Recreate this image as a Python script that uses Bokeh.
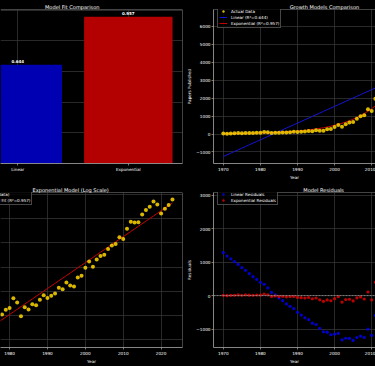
import numpy as np
from bokeh.plotting import figure
from bokeh.layouts import gridplot
from bokeh.models import (Range1d, FixedTicker, SingleIntervalTicker, Legend, LegendItem,
                          Span, GlobalInlineStyleSheet, ColumnDataSource)
from bokeh.core.properties import value
from bokeh.embed import file_html
from bokeh.resources import INLINE

# ---------------- data ----------------
years = [1970, 1971, 1972, 1973, 1974, 1975, 1976, 1977, 1978, 1979,
         1980, 1981, 1982, 1983, 1984, 1985, 1986, 1987, 1988, 1989,
         1990, 1991, 1992, 1993, 1994, 1995, 1996, 1997, 1998, 1999,
         2000, 2001, 2002, 2003, 2004, 2005, 2006, 2007, 2008, 2009,
         2010, 2011, 2012, 2013, 2014, 2015, 2016, 2017, 2018, 2019,
         2020, 2021, 2022, 2023]
papers = [28, 20, 32, 38, 50, 45, 60, 55, 57, 69,
          74, 111, 93, 53, 77, 70, 87, 83, 105, 126,
          112, 123, 135, 172, 161, 213, 189, 181, 263, 281,
          393, 506, 408, 548, 635, 669, 851, 986, 1040, 1377,
          1287, 1971, 2610, 2540, 2575, 3545, 4270, 4880, 6040, 5360,
          3690, 4500, 5220, 6550]
models = ["Linear", "Exponential"]
r2_scores = [0.644, 0.957]
bar_colors = ["#0000b3", "#b30000"]

# ---------------- fits ----------------
yrs = np.array(years, dtype=float)
vals = np.array(papers, dtype=float)
lin_coef = np.polyfit(yrs, vals, 1)
lin_fit = np.polyval(lin_coef, yrs)
exp_coef = np.polyfit(yrs, np.log(vals), 1)
log_fit = np.polyval(exp_coef, yrs)
exp_fit = np.exp(log_fit)
log_vals = np.log(vals)
lin_res = vals - lin_fit
exp_res = vals - exp_fit


def pad(lo, hi, f=0.05):
    d = (hi - lo) * f
    return lo - d, hi + d


x_full = pad(min(years), max(years))
bar_full = pad(-0.4, len(models) - 1 + 0.4)

FONT = "DejaVu Sans"
SPINE = "#a8a8a8"
GRID = "#3b3b3b"
TXT = "#ffffff"
TITLE_SIZE = "5.05px"
TICK_SIZE = "4.2px"
LEG_SIZE = "4.1px"


def make(width, height, borders, x_range, y_range, title, title_offset, y_axis=True):
    left, right, top, bottom = borders
    p = figure(width=width, height=height, x_range=x_range, y_range=y_range,
               output_backend="svg", toolbar_location=None,
               y_axis_location="left" if y_axis else None,
               background_fill_color="black", border_fill_color="black",
               min_border_left=left, min_border_right=right,
               min_border_top=top, min_border_bottom=bottom, title=title)
    p.outline_line_color = None
    p.grid.grid_line_color = GRID
    p.grid.grid_line_width = 0.7
    p.title.align = "left"
    p.title.offset = title_offset
    p.title.text_font = FONT
    p.title.text_font_size = TITLE_SIZE
    p.title.text_font_style = "normal"
    p.title.text_color = TXT
    p.title.standoff = 0
    for ax in p.axis:
        ax.axis_line_color = SPINE
        ax.axis_line_width = 0.8
        ax.major_tick_line_color = SPINE
        ax.major_tick_line_width = 0.7
        ax.major_tick_out = 2
        ax.major_tick_in = 0
        ax.minor_tick_line_color = None
        ax.major_label_text_font = FONT
        ax.major_label_text_font_size = TICK_SIZE
        ax.major_label_text_color = TXT
        ax.major_label_standoff = 1
        ax.axis_label_text_font = FONT
        ax.axis_label_text_font_size = TICK_SIZE
        ax.axis_label_text_font_style = "normal"
        ax.axis_label_text_color = TXT
        ax.axis_label_standoff = 1
    return p


def spine(p, loc, dim):
    p.add_layout(Span(location=loc, dimension=dim, line_color=SPINE, line_width=0.8))


def legend(p, items, loc):
    lg = Legend(items=items, location=loc)
    lg.label_text_font = FONT
    lg.label_text_font_size = LEG_SIZE
    lg.label_text_color = TXT
    lg.label_height = 6
    lg.glyph_height = 6
    lg.glyph_width = 8
    lg.label_standoff = 4
    lg.spacing = 0
    lg.padding = 1
    lg.margin = 0
    lg.background_fill_color = "black"
    lg.background_fill_alpha = 0.8
    lg.border_line_color = "#8c8c8c"
    lg.border_line_width = 0.7
    p.add_layout(lg)


# ---------------- top-left: bar chart ----------------
tl_y = Range1d(0, max(r2_scores) * 1.05)
tl_x = Range1d(-0.156, bar_full[1])
tl = make(184, 182, (0, 2, 9, 15), tl_x, tl_y, "Model Fit Comparison", 44.5, y_axis=False)
pos = list(range(len(models)))
bar_src = ColumnDataSource(dict(x=pos, top=r2_scores, color=bar_colors,
                                label=[f"{v:.3f}" for v in r2_scores],
                                ly=[v + 0.01 for v in r2_scores]))
tl.vbar(x="x", top="top", width=0.8, bottom=0, color="color", line_color=None, source=bar_src)
tl.text(x="x", y="ly", text="label", source=bar_src, text_align="center", text_baseline="bottom",
        text_font=value(FONT), text_font_size=value("4px"), text_font_style="bold",
        text_color=TXT)
tl.xaxis.ticker = FixedTicker(ticks=pos)
tl.xaxis.major_label_overrides = {i: m for i, m in zip(pos, models)}
tl.ygrid.ticker = SingleIntervalTicker(interval=0.2, num_minor_ticks=0)
spine(tl, tl_y.end, "width")
spine(tl, tl_x.end, "height")

# ---------------- top-right: growth models ----------------
tr_vals = np.concatenate([vals, lin_fit, exp_fit])
tr_y = Range1d(*pad(tr_vals.min(), tr_vals.max()))
tr_x = Range1d(x_full[0], 2011.03)
tr = make(191, 182, (25, 0, 9, 15), tr_x, tr_y, "Growth Models Comparison", 76.2)
r_lin = tr.line(years, lin_fit, line_color="#1414d8", line_width=1.0)
r_exp = tr.line(years, exp_fit, line_color="#c80000", line_width=1.0)
r_dat = tr.scatter(years, papers, size=4.0, fill_color="gold", fill_alpha=0.85, line_color=None)
tr.xaxis.ticker = SingleIntervalTicker(interval=10, num_minor_ticks=0)
tr.yaxis.ticker = SingleIntervalTicker(interval=1000, num_minor_ticks=0)
tr.yaxis.major_label_overrides = {-1000: "\u22121000"}
tr.xaxis.axis_label = "Year"
tr.yaxis.axis_label = "Papers Published"
spine(tr, tr_y.end, "width")
legend(tr, [LegendItem(label="Actual Data", renderers=[r_dat]),
            LegendItem(label=f"Linear (R\u00b2={r2_scores[0]:.3f})", renderers=[r_lin]),
            LegendItem(label=f"Exponential (R\u00b2={r2_scores[1]:.3f})", renderers=[r_exp])],
       (4, 135))

# ---------------- bottom-left: log scale ----------------
bl_vals = np.concatenate([log_vals, log_fit])
bl_y = Range1d(*pad(bl_vals.min(), bl_vals.max()))
bl_x = Range1d(1977.6, x_full[1])
bl = make(184, 184, (0, 2, 10, 16), bl_x, bl_y, "Exponential Model (Log Scale)", 32.0, y_axis=False)
r_lf = bl.line(years, log_fit, line_color="#c80000", line_width=1.0)
r_ld = bl.scatter(years, log_vals, size=4.0, fill_color="gold", fill_alpha=0.85, line_color=None)
bl.xaxis.ticker = SingleIntervalTicker(interval=10, num_minor_ticks=0)
bl.xaxis.axis_label = "Year"
bl.ygrid.ticker = SingleIntervalTicker(interval=1, num_minor_ticks=0)
spine(bl, bl_y.end, "width")
spine(bl, bl_x.end, "height")
legend(bl, [LegendItem(label="log(Actual Data)", renderers=[r_ld]),
            LegendItem(label=f"Exponential Fit (R\u00b2={r2_scores[1]:.3f})", renderers=[r_lf])],
       (-38, 142))

# ---------------- bottom-right: residuals ----------------
br_vals = np.concatenate([lin_res, exp_res])
br_y = Range1d(*pad(br_vals.min(), br_vals.max()))
br_x = Range1d(x_full[0], 2011.03)
br = make(191, 184, (25, 0, 10, 16), br_x, br_y, "Model Residuals", 89.8)
br.add_layout(Span(location=0, dimension="width", line_color="#9a9a9a", line_width=0.8,
                   line_dash="2 1"))
r_lr = br.scatter(years, lin_res, size=3.2, fill_color="#0000f0", fill_alpha=0.85, line_color=None)
r_er = br.scatter(years, exp_res, size=3.2, fill_color="#e00000", fill_alpha=0.85, line_color=None)
br.xaxis.ticker = SingleIntervalTicker(interval=10, num_minor_ticks=0)
br.yaxis.ticker = SingleIntervalTicker(interval=1000, num_minor_ticks=0)
br.yaxis.major_label_overrides = {-1000: "\u22121000"}
br.xaxis.axis_label = "Year"
br.yaxis.axis_label = "Residuals"
spine(br, br_y.end, "width")
legend(br, [LegendItem(label="Linear Residuals", renderers=[r_lr]),
            LegendItem(label="Exponential Residuals", renderers=[r_er])],
       (4, 142))

grid = gridplot([[tl, tr], [bl, br]], toolbar_location=None)
grid.stylesheets = [GlobalInlineStyleSheet(css="html, body { background: #000; }")]

open("out.html", "w").write(file_html(grid, INLINE))
